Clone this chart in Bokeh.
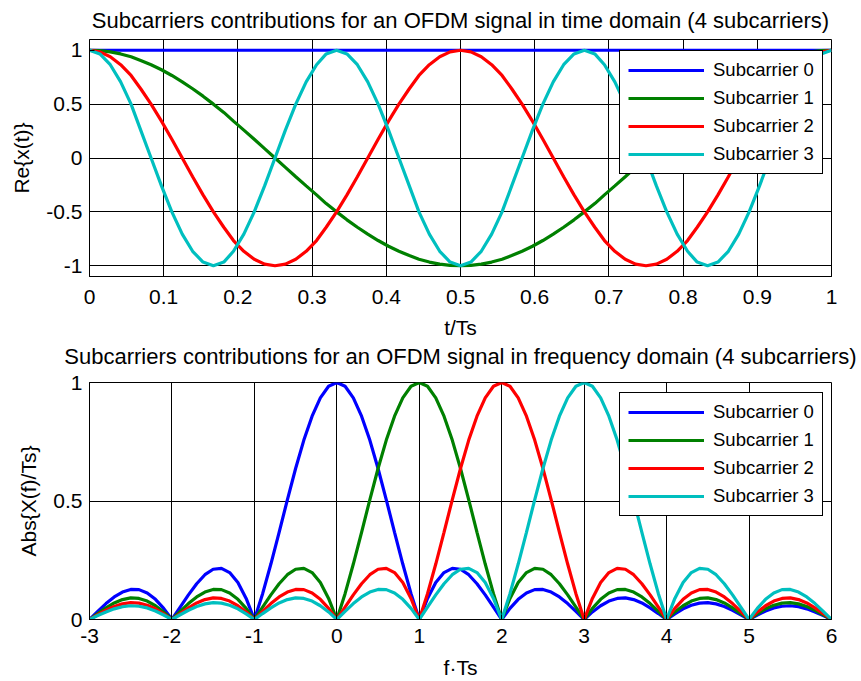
from bokeh.plotting import figure
from bokeh.layouts import column
from bokeh.models import Range1d, FixedTicker, CustomJSTickFormatter, Title
from bokeh.embed import file_html
from bokeh.resources import INLINE

# ---------------- data: time domain ----------------
t = [0, 0.014, 0.028, 0.042, 0.056, 0.069, 0.083, 0.097, 0.111, 0.125, 0.139, 0.153, 0.167,
     0.181, 0.194, 0.208, 0.222, 0.236, 0.25, 0.264, 0.278, 0.292, 0.306, 0.319, 0.333,
     0.347, 0.361, 0.375, 0.389, 0.403, 0.417, 0.431, 0.444, 0.458, 0.472, 0.486, 0.5,
     0.514, 0.528, 0.542, 0.556, 0.569, 0.583, 0.597, 0.611, 0.625, 0.639, 0.653, 0.667,
     0.681, 0.694, 0.708, 0.722, 0.736, 0.75, 0.764, 0.778, 0.792, 0.806, 0.819, 0.833,
     0.847, 0.861, 0.875, 0.889, 0.903, 0.917, 0.931, 0.944, 0.958, 0.972, 0.986, 1]

sc0_time = [1, 1, 1, 1, 1, 1, 1, 1, 1, 1, 1, 1, 1, 1, 1, 1, 1, 1, 1, 1, 1, 1, 1, 1, 1,
            1, 1, 1, 1, 1, 1, 1, 1, 1, 1, 1, 1, 1, 1, 1, 1, 1, 1, 1, 1, 1, 1, 1, 1,
            1, 1, 1, 1, 1, 1, 1, 1, 1, 1, 1, 1, 1, 1, 1, 1, 1, 1, 1, 1, 1, 1, 1, 1]

sc1_time = [1, 0.996, 0.985, 0.966, 0.94, 0.906, 0.866, 0.819, 0.766, 0.707, 0.643, 0.574, 0.5,
            0.423, 0.342, 0.259, 0.174, 0.087, 0,
            -0.087, -0.174, -0.259, -0.342, -0.423, -0.5, -0.574, -0.643, -0.707, -0.766,
            -0.819, -0.866, -0.906, -0.94, -0.966, -0.985, -0.996, -1,
            -0.996, -0.985, -0.966, -0.94, -0.906, -0.866, -0.819, -0.766, -0.707, -0.643,
            -0.574, -0.5, -0.423, -0.342, -0.259, -0.174, -0.087, 0,
            0.087, 0.174, 0.259, 0.342, 0.423, 0.5, 0.574, 0.643, 0.707, 0.766, 0.819, 0.866,
            0.906, 0.94, 0.966, 0.985, 0.996, 1]

sc2_time = [1, 0.985, 0.94, 0.866, 0.766, 0.643, 0.5, 0.342, 0.174, 0, -0.174, -0.342, -0.5,
            -0.643, -0.766, -0.866, -0.94, -0.985, -1,
            -0.985, -0.94, -0.866, -0.766, -0.643, -0.5, -0.342, -0.174, 0, 0.174, 0.342, 0.5,
            0.643, 0.766, 0.866, 0.94, 0.985, 1,
            0.985, 0.94, 0.866, 0.766, 0.643, 0.5, 0.342, 0.174, 0, -0.174, -0.342, -0.5,
            -0.643, -0.766, -0.866, -0.94, -0.985, -1,
            -0.985, -0.94, -0.866, -0.766, -0.643, -0.5, -0.342, -0.174, 0, 0.174, 0.342, 0.5,
            0.643, 0.766, 0.866, 0.94, 0.985, 1]

sc3_time = [1, 0.966, 0.866, 0.707, 0.5, 0.259, 0, -0.259, -0.5, -0.707, -0.866, -0.966, -1,
            -0.966, -0.866, -0.707, -0.5, -0.259, 0, 0.259, 0.5, 0.707, 0.866, 0.966, 1,
            0.966, 0.866, 0.707, 0.5, 0.259, 0, -0.259, -0.5, -0.707, -0.866, -0.966, -1,
            -0.966, -0.866, -0.707, -0.5, -0.259, 0, 0.259, 0.5, 0.707, 0.866, 0.966, 1,
            0.966, 0.866, 0.707, 0.5, 0.259, 0, -0.259, -0.5, -0.707, -0.866, -0.966, -1,
            -0.966, -0.866, -0.707, -0.5, -0.259, 0, 0.259, 0.5, 0.707, 0.866, 0.966, 1]

# ---------------- data: frequency domain ----------------
f = [-3, -2.9, -2.8, -2.7, -2.6, -2.5, -2.4, -2.3, -2.2, -2.1,
     -2, -1.9, -1.8, -1.7, -1.6, -1.5, -1.4, -1.3, -1.2, -1.1,
     -1, -0.9, -0.8, -0.7, -0.6, -0.5, -0.4, -0.3, -0.2, -0.1,
     0, 0.1, 0.2, 0.3, 0.4, 0.5, 0.6, 0.7, 0.8, 0.9,
     1, 1.1, 1.2, 1.3, 1.4, 1.5, 1.6, 1.7, 1.8, 1.9,
     2, 2.1, 2.2, 2.3, 2.4, 2.5, 2.6, 2.7, 2.8, 2.9,
     3, 3.1, 3.2, 3.3, 3.4, 3.5, 3.6, 3.7, 3.8, 3.9,
     4, 4.1, 4.2, 4.3, 4.4, 4.5, 4.6, 4.7, 4.8, 4.9,
     5, 5.1, 5.2, 5.3, 5.4, 5.5, 5.6, 5.7, 5.8, 5.9, 6]

sc0_freq = [0, 0.034, 0.067, 0.095, 0.116, 0.127, 0.126, 0.112, 0.085, 0.047,
            0, 0.052, 0.104, 0.151, 0.189, 0.212, 0.216, 0.198, 0.156, 0.089,
            0, 0.109, 0.234, 0.368, 0.505, 0.637, 0.757, 0.858, 0.935, 0.984,
            1, 0.984, 0.935, 0.858, 0.757, 0.637, 0.505, 0.368, 0.234, 0.109,
            0, 0.089, 0.156, 0.198, 0.216, 0.212, 0.189, 0.151, 0.104, 0.052,
            0, 0.047, 0.085, 0.112, 0.126, 0.127, 0.116, 0.095, 0.067, 0.034,
            0, 0.032, 0.058, 0.078, 0.089, 0.091, 0.084, 0.07, 0.049, 0.025,
            0, 0.024, 0.045, 0.06, 0.069, 0.071, 0.066, 0.055, 0.039, 0.02,
            0, 0.019, 0.036, 0.049, 0.056, 0.058, 0.054, 0.045, 0.032, 0.017, 0]

sc1_freq = [0, 0.025, 0.049, 0.07, 0.084, 0.091, 0.089, 0.078, 0.058, 0.032,
            0, 0.034, 0.067, 0.095, 0.116, 0.127, 0.126, 0.112, 0.085, 0.047,
            0, 0.052, 0.104, 0.151, 0.189, 0.212, 0.216, 0.198, 0.156, 0.089,
            0, 0.109, 0.234, 0.368, 0.505, 0.637, 0.757, 0.858, 0.935, 0.984,
            1, 0.984, 0.935, 0.858, 0.757, 0.637, 0.505, 0.368, 0.234, 0.109,
            0, 0.089, 0.156, 0.198, 0.216, 0.212, 0.189, 0.151, 0.104, 0.052,
            0, 0.047, 0.085, 0.112, 0.126, 0.127, 0.116, 0.095, 0.067, 0.034,
            0, 0.032, 0.058, 0.078, 0.089, 0.091, 0.084, 0.07, 0.049, 0.025,
            0, 0.024, 0.045, 0.06, 0.069, 0.071, 0.066, 0.055, 0.039, 0.02, 0]

sc2_freq = [0, 0.02, 0.039, 0.055, 0.066, 0.071, 0.069, 0.06, 0.045, 0.024,
            0, 0.025, 0.049, 0.07, 0.084, 0.091, 0.089, 0.078, 0.058, 0.032,
            0, 0.034, 0.067, 0.095, 0.116, 0.127, 0.126, 0.112, 0.085, 0.047,
            0, 0.052, 0.104, 0.151, 0.189, 0.212, 0.216, 0.198, 0.156, 0.089,
            0, 0.109, 0.234, 0.368, 0.505, 0.637, 0.757, 0.858, 0.935, 0.984,
            1, 0.984, 0.935, 0.858, 0.757, 0.637, 0.505, 0.368, 0.234, 0.109,
            0, 0.089, 0.156, 0.198, 0.216, 0.212, 0.189, 0.151, 0.104, 0.052,
            0, 0.047, 0.085, 0.112, 0.126, 0.127, 0.116, 0.095, 0.067, 0.034,
            0, 0.032, 0.058, 0.078, 0.089, 0.091, 0.084, 0.07, 0.049, 0.025, 0]

sc3_freq = [0, 0.017, 0.032, 0.045, 0.054, 0.058, 0.056, 0.049, 0.036, 0.019,
            0, 0.02, 0.039, 0.055, 0.066, 0.071, 0.069, 0.06, 0.045, 0.024,
            0, 0.025, 0.049, 0.07, 0.084, 0.091, 0.089, 0.078, 0.058, 0.032,
            0, 0.034, 0.067, 0.095, 0.116, 0.127, 0.126, 0.112, 0.085, 0.047,
            0, 0.052, 0.104, 0.151, 0.189, 0.212, 0.216, 0.198, 0.156, 0.089,
            0, 0.109, 0.234, 0.368, 0.505, 0.637, 0.757, 0.858, 0.935, 0.984,
            1, 0.984, 0.935, 0.858, 0.757, 0.637, 0.505, 0.368, 0.234, 0.109,
            0, 0.089, 0.156, 0.198, 0.216, 0.212, 0.189, 0.151, 0.104, 0.052,
            0, 0.047, 0.085, 0.112, 0.126, 0.127, 0.116, 0.095, 0.067, 0.034, 0]

series_labels = ["Subcarrier 0", "Subcarrier 1", "Subcarrier 2", "Subcarrier 3"]
time_ticks_x = [0, 0.1, 0.2, 0.3, 0.4, 0.5, 0.6, 0.7, 0.8, 0.9, 1]
time_ticks_y = [-1, -0.5, 0, 0.5, 1]
freq_ticks_x = [-3, -2, -1, 0, 1, 2, 3, 4, 5, 6]
freq_ticks_y = [0, 0.5, 1]

title_time = "Subcarriers contributions for an OFDM signal in time domain (4 subcarriers)"
title_freq = "Subcarriers contributions for an OFDM signal in frequency domain (4 subcarriers)"

# ---------------- styling ----------------
FONT = "Liberation Sans"
COLORS = ["#0000FF", "#008000", "#FF0000", "#00BFBF"]
LW = 3.2
fmt_code = "return tick.toString();"


def style(p, xt, yt, xlabel, ylabel, xtick_standoff, xlab_standoff):
    p.outline_line_color = "black"
    p.outline_line_alpha = 1
    p.outline_line_width = 1
    p.background_fill_color = "white"
    p.border_fill_color = "white"
    p.xaxis.ticker = FixedTicker(ticks=xt)
    p.yaxis.ticker = FixedTicker(ticks=yt)
    p.xgrid.ticker = FixedTicker(ticks=xt)
    p.ygrid.ticker = FixedTicker(ticks=yt)
    for g in (p.xgrid, p.ygrid):
        g.grid_line_color = "black"
        g.grid_line_alpha = 1
        g.grid_line_width = 1
    for ax in (p.xaxis, p.yaxis):
        ax.formatter = CustomJSTickFormatter(code=fmt_code)
        ax.axis_line_color = "black"
        ax.major_tick_line_color = "black"
        ax.major_tick_in = 5
        ax.major_tick_out = 0
        ax.minor_tick_line_color = None
        ax.major_label_text_font = FONT
        ax.major_label_text_font_size = "21px"
        ax.major_label_text_color = "black"
        ax.axis_label_text_font = FONT
        ax.axis_label_text_font_size = "21px"
        ax.axis_label_text_font_style = "normal"
        ax.axis_label_text_color = "black"
    p.xaxis.axis_label = xlabel
    p.yaxis.axis_label = ylabel
    p.xaxis.major_label_standoff = xtick_standoff
    p.xaxis.axis_label_standoff = xlab_standoff
    p.yaxis.major_label_standoff = 7
    p.yaxis.axis_label_standoff = 10


def style_title(tt, standoff, valign):
    tt.text_font = FONT
    tt.text_font_size = "22px"
    tt.text_font_style = "normal"
    tt.text_color = "black"
    tt.align = "center"
    tt.standoff = standoff
    tt.vertical_align = valign


def style_legend(p, loc):
    lg = p.legend[0]
    lg.location = loc
    lg.border_line_color = "black"
    lg.border_line_width = 1
    lg.border_line_alpha = 1
    lg.background_fill_color = "white"
    lg.background_fill_alpha = 1
    lg.label_text_font = FONT
    lg.label_text_font_size = "18.5px"
    lg.label_text_color = "black"
    lg.glyph_width = 76
    lg.glyph_height = 20
    lg.spacing = 6
    lg.padding = 8
    lg.margin = 0
    lg.label_standoff = 9


# ---------------- top figure (also carries the lower panel's title below it) ----------------
p1 = figure(width=861, height=370, x_range=Range1d(0, 1), y_range=Range1d(-1.1, 1.1),
            output_backend="svg", toolbar_location=None,
            min_border_left=89, min_border_right=30, min_border_top=39, min_border_bottom=94,
            title=title_time)
for ys, c, lab in zip([sc0_time, sc1_time, sc2_time, sc3_time], COLORS, series_labels):
    p1.line(t, ys, line_color=c, line_width=LW, legend_label=lab)
style(p1, time_ticks_x, time_ticks_y, "t/Ts", "Re{x(t)}", 13, 9)
style_title(p1.title, 10, "top")
title2 = Title(text=title_freq)
style_title(title2, 0, "bottom")
p1.add_layout(title2, "below")
style_legend(p1, (530, 102))

# ---------------- bottom figure ----------------
p2 = figure(width=861, height=311, x_range=Range1d(-3, 6), y_range=Range1d(0, 1),
            output_backend="svg", toolbar_location=None,
            min_border_left=89, min_border_right=30, min_border_top=12, min_border_bottom=62)
for ys, c, lab in zip([sc0_freq, sc1_freq, sc2_freq, sc3_freq], COLORS, series_labels):
    p2.line(f, ys, line_color=c, line_width=LW, legend_label=lab)
style(p2, freq_ticks_x, freq_ticks_y, "f\u00b7Ts", "Abs{X(f)/Ts}", 9, 10)
style_legend(p2, (530, 103))

layout = column(p1, p2)
open("out.html", "w").write(file_html(layout, INLINE))
